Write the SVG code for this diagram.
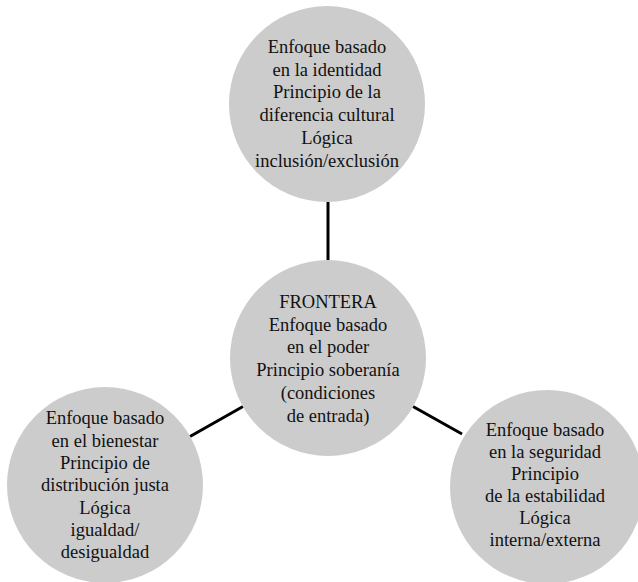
<svg xmlns="http://www.w3.org/2000/svg" width="638" height="582" viewBox="0 0 638 582">
<style>
.c{fill:#cccccc;stroke:none}
.t{font-family:"Liberation Serif","Times New Roman",serif;font-size:18.5px;fill:#111;text-anchor:middle}
.l{stroke:#000;stroke-width:3;fill:none}
</style>
<rect width="638" height="582" fill="#fff"/>
<g id="connectors">
<line class="l" x1="328" y1="202" x2="328" y2="260"/>
<line class="l" x1="190" y1="436.5" x2="243" y2="406.5"/>
<line class="l" x1="413" y1="406.5" x2="462" y2="434"/>
</g>
<g id="top">
<circle class="c" cx="327" cy="104" r="98"/>
<text class="t" x="327" y="53">Enfoque basado</text>
<text class="t" x="327" y="75.7">en la identidad</text>
<text class="t" x="327" y="98.4">Principio de la</text>
<text class="t" x="327" y="121">diferencia cultural</text>
<text class="t" x="327" y="143.8">Lógica</text>
<text class="t" x="327" y="166.5">inclusión/exclusión</text>
</g>
<g id="center">
<circle class="c" cx="328" cy="358" r="98"/>
<text class="t" x="328" y="308">FRONTERA</text>
<text class="t" x="328" y="330.7">Enfoque basado</text>
<text class="t" x="328" y="353.4">en el poder</text>
<text class="t" x="328" y="376">Principio soberanía</text>
<text class="t" x="328" y="398.8">(condiciones</text>
<text class="t" x="328" y="421.5">de entrada)</text>
</g>
<g id="left">
<circle class="c" cx="105" cy="485" r="98"/>
<text class="t" x="105" y="424">Enfoque basado</text>
<text class="t" x="105" y="446.5">en el bienestar</text>
<text class="t" x="105" y="469">Principio de</text>
<text class="t" x="105" y="491">distribución justa</text>
<text class="t" x="105" y="513.5">Lógica</text>
<text class="t" x="105" y="536">igualdad/</text>
<text class="t" x="105" y="558">desigualdad</text>
</g>
<g id="right">
<circle class="c" cx="547" cy="487" r="97"/>
<text class="t" x="545" y="436">Enfoque basado</text>
<text class="t" x="545" y="458">en la seguridad</text>
<text class="t" x="545" y="480">Principio</text>
<text class="t" x="545" y="502">de la estabilidad</text>
<text class="t" x="545" y="524">Lógica</text>
<text class="t" x="545" y="546">interna/externa</text>
</g>
</svg>
